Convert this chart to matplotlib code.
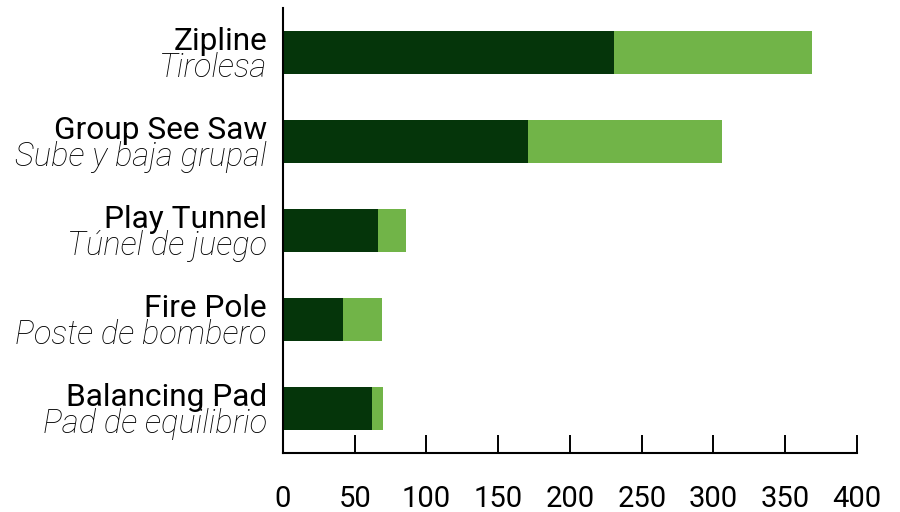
import matplotlib
matplotlib.use("Agg")
import matplotlib.pyplot as plt
import numpy as np

# data
english = ["Zipline", "Group See Saw", "Play Tunnel", "Fire Pole", "Balancing Pad"]
spanish = ["Tirolesa", "Sube y baja grupal", "Túnel de juego", "Poste de bombero", "Pad de equilibrio"]
dark_vals = [231, 171, 66, 42, 62]
light_vals = [138, 135, 20, 27, 8]
x_ticks = [0, 50, 100, 150, 200, 250, 300, 350, 400]

dark_color = "#05350A"
light_color = "#71B448"

plt.rcParams["font.family"] = ["Roboto", "DejaVu Sans"]

fig = plt.figure(figsize=(9, 5.12), dpi=100)
ax = fig.add_axes([0.3144, 0.1152, 0.6378, 0.8688])

y = np.arange(len(english))
ax.barh(y, dark_vals, height=0.48, color=dark_color)
ax.barh(y, light_vals, left=dark_vals, height=0.48, color=light_color)

ax.set_ylim(len(english) - 0.5, -0.5)
ax.set_xlim(0, 400)
ax.set_xticks(x_ticks)
ax.set_xticklabels([str(t) for t in x_ticks])
ax.set_yticks([])

ax.spines["top"].set_visible(False)
ax.spines["right"].set_visible(False)
ax.spines["left"].set_linewidth(1.5)
ax.spines["bottom"].set_linewidth(1.5)
ax.tick_params(axis="x", direction="in", length=13, width=1.4, pad=23, labelsize=21)

for i in range(len(english)):
    ax.annotate(english[i], xy=(0, i), xycoords=("axes fraction", "data"),
                xytext=(-11.5, 1.8), textcoords="offset points",
                ha="right", va="baseline", fontsize=22.8, color="black")
    ax.annotate(spanish[i], xy=(0, i), xycoords=("axes fraction", "data"),
                xytext=(-11.5, -17.6), textcoords="offset points",
                ha="right", va="baseline", fontsize=23.5, color="black",
                style="italic", fontweight="light")

fig.savefig("out.png", dpi=100)
